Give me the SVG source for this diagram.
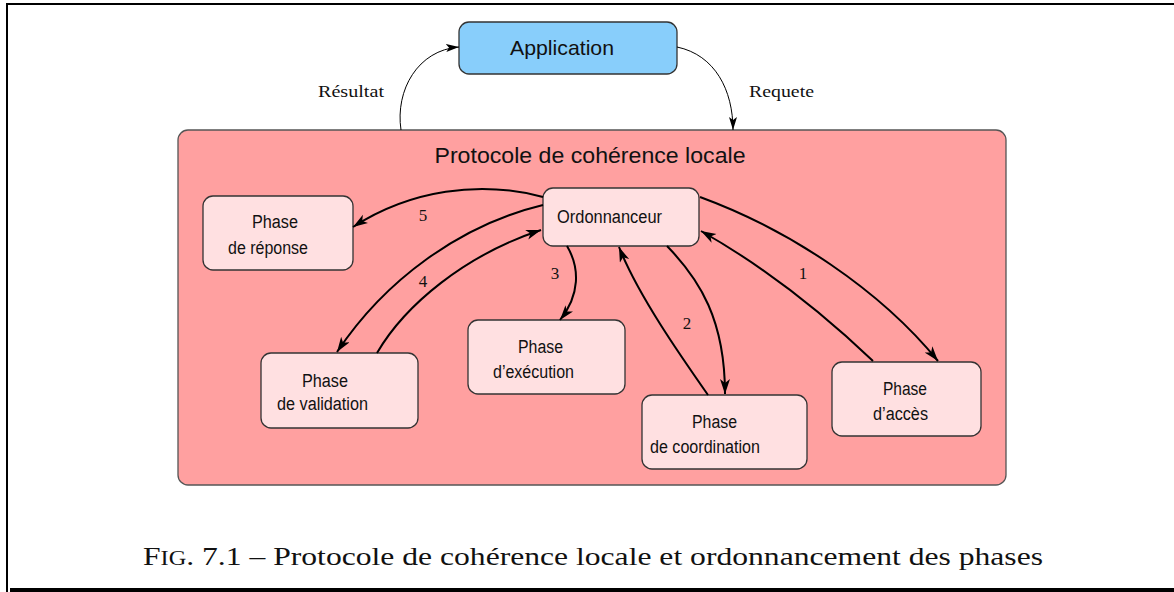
<svg xmlns="http://www.w3.org/2000/svg" width="1174" height="592" viewBox="0 0 1174 592">
<style>
.frame{fill:none;stroke:#000;stroke-width:2}
.node{fill:#FFE0E1;stroke:#333;stroke-width:1.3}
.sans{font-family:"Liberation Sans",Arial,sans-serif;fill:#111}
.serif{font-family:"Liberation Serif","Times New Roman",serif;fill:#111}
.lbl{font-size:17px}
.num{font-size:17px}
.edge{fill:none;stroke:#000;stroke-width:2}
.thin{fill:none;stroke:#000;stroke-width:1}
</style>
<defs>
<marker id="ah" markerUnits="userSpaceOnUse" markerWidth="16" markerHeight="12" refX="15" refY="5" orient="auto">
<path d="M0,0 L15,5 L0,10 L4,5 Z" fill="#000"/>
</marker>
<marker id="ahs" markerUnits="userSpaceOnUse" markerWidth="14" markerHeight="10" refX="13" refY="4" orient="auto">
<path d="M0,0 L13,4 L0,8 L3,4 Z" fill="#000"/>
</marker>
</defs>
<rect width="1174" height="592" fill="#fff"/>
<!-- frame -->
<path class="frame" d="M7,592 V4 H1174"/>
<rect x="10" y="588" width="1164" height="4" fill="#000"/>
<rect x="6" y="585" width="2" height="3" fill="#000"/>

<g id="protocole">
<rect x="178" y="130" width="828" height="355" rx="10" fill="#FFA0A0" stroke="#555" stroke-width="1.3"/>
<text class="sans" x="590" y="163" font-size="22" text-anchor="middle" textLength="311" lengthAdjust="spacingAndGlyphs">Protocole de cohérence locale</text>
</g>

<g id="application">
<rect x="459" y="22" width="218" height="52" rx="10" fill="#88CEFB" stroke="#333" stroke-width="1.3"/>
<text class="sans" x="510" y="55" font-size="21" textLength="104" lengthAdjust="spacingAndGlyphs">Application</text>
</g>

<g id="ordonnanceur">
<rect x="543" y="188" width="156" height="58" rx="10" class="node"/>
<text class="sans" x="557" y="223" font-size="18" textLength="105" lengthAdjust="spacingAndGlyphs">Ordonnanceur</text>
</g>

<g id="reponse">
<rect x="203" y="196" width="150" height="74" rx="10" class="node"/>
<text class="sans" x="252" y="228" font-size="18" textLength="46" lengthAdjust="spacingAndGlyphs">Phase</text>
<text class="sans" x="228" y="254" font-size="18" textLength="80" lengthAdjust="spacingAndGlyphs">de réponse</text>
</g>

<g id="validation">
<rect x="261" y="353" width="157" height="75" rx="10" class="node"/>
<text class="sans" x="302" y="387" font-size="18" textLength="46" lengthAdjust="spacingAndGlyphs">Phase</text>
<text class="sans" x="277" y="410" font-size="18" textLength="91" lengthAdjust="spacingAndGlyphs">de validation</text>
</g>

<g id="execution">
<rect x="468" y="320" width="157" height="74" rx="10" class="node"/>
<text class="sans" x="518" y="353" font-size="18" textLength="45" lengthAdjust="spacingAndGlyphs">Phase</text>
<text class="sans" x="493" y="378" font-size="18" textLength="81" lengthAdjust="spacingAndGlyphs">d’exécution</text>
</g>

<g id="coordination">
<rect x="642" y="395" width="165" height="74" rx="10" class="node"/>
<text class="sans" x="692" y="428" font-size="18" textLength="45" lengthAdjust="spacingAndGlyphs">Phase</text>
<text class="sans" x="650" y="453" font-size="18" textLength="110" lengthAdjust="spacingAndGlyphs">de coordination</text>
</g>

<g id="acces">
<rect x="832" y="362" width="149" height="74" rx="10" class="node"/>
<text class="sans" x="883" y="395" font-size="18" textLength="44" lengthAdjust="spacingAndGlyphs">Phase</text>
<text class="sans" x="873" y="420" font-size="18" textLength="55" lengthAdjust="spacingAndGlyphs">d’accès</text>
</g>

<g id="connectors">
<path class="thin" d="M401,130 C 395,90 418,50 459,47" marker-end="url(#ahs)"/>
<path class="thin" d="M677,47 C 715,55 733,90 733,130" marker-end="url(#ahs)"/>
<path class="edge" d="M543,197 C 480,180 410,190 353,227" marker-end="url(#ah)"/>
<path class="edge" d="M543,205 C 460,225 385,280 337,352" marker-end="url(#ah)"/>
<path class="edge" d="M377,353 C 405,305 465,255 541,230" marker-end="url(#ah)"/>
<path class="edge" d="M567,246 C 580,268 580,295 560,320" marker-end="url(#ah)"/>
<path class="edge" d="M708,395 C 680,355 638,295 619,247" marker-end="url(#ah)"/>
<path class="edge" d="M667,246 C 700,280 725,320 725,394" marker-end="url(#ah)"/>
<path class="edge" d="M700,197 C 790,230 880,290 938,361" marker-end="url(#ah)"/>
<path class="edge" d="M873,361 C 830,320 770,270 701,231" marker-end="url(#ah)"/>
<text class="serif" x="318" y="97" font-size="17" textLength="66" lengthAdjust="spacingAndGlyphs">Résultat</text>
<text class="serif" x="749" y="97" font-size="17" textLength="65" lengthAdjust="spacingAndGlyphs">Requete</text>
<text class="serif num" x="423" y="221" text-anchor="middle">5</text>
<text class="serif num" x="423" y="287" text-anchor="middle">4</text>
<text class="serif num" x="555" y="279" text-anchor="middle">3</text>
<text class="serif num" x="687" y="329" text-anchor="middle">2</text>
<text class="serif num" x="803" y="279" text-anchor="middle">1</text>
</g>

<text class="serif" x="143" y="565" font-size="26" textLength="900" lengthAdjust="spacingAndGlyphs">F<tspan font-size="20">IG</tspan>. 7.1 – Protocole de cohérence locale et ordonnancement des phases</text>
</svg>
